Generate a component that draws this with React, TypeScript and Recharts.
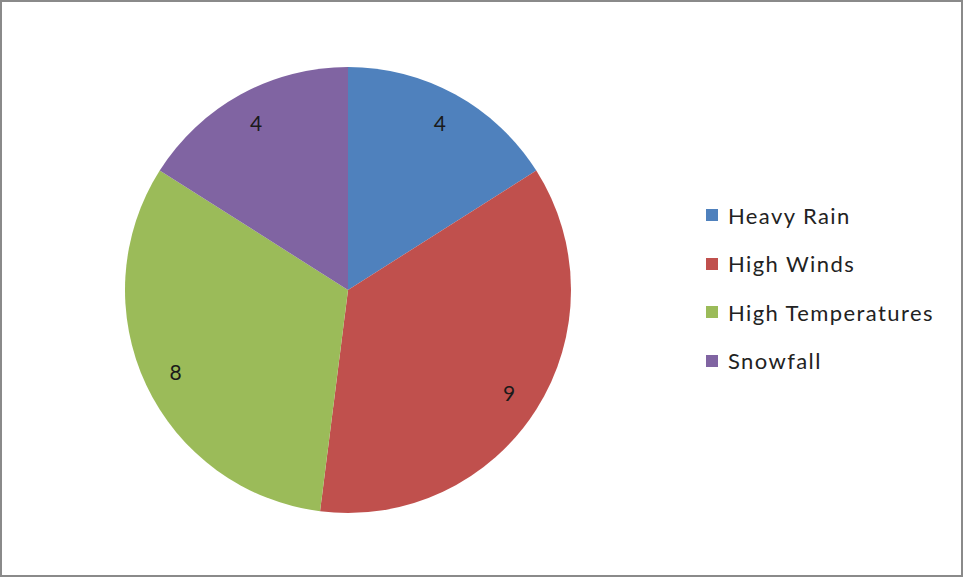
import React from 'react';
import { PieChart, Pie, Cell, Legend } from 'recharts';

const categories = ['Heavy Rain', 'High Winds', 'High Temperatures', 'Snowfall'];
const counts = [4, 9, 8, 4];
const colors = ['#4F81BD', '#C0504D', '#9BBB59', '#8064A2'];

const data = categories.map((name, i) => ({ name, value: counts[i] }));

const RADIAN = Math.PI / 180;
const FONT = 'Lato, "Open Sans", sans-serif';

const renderLabel = (props: any) => {
    const { cx, cy, midAngle, outerRadius, value } = props;
    const r = outerRadius * 0.855;
    const x = cx + r * Math.cos(-midAngle * RADIAN);
    const y = cy + r * Math.sin(-midAngle * RADIAN);
    return (
        <text x={x} y={y} fill="#1a1a1a" fontSize={21} fontFamily={FONT} textAnchor="middle" dominantBaseline="central">
            {value}
        </text>
    );
};

const renderLegend = () => (
    <div style={{ fontFamily: FONT, fontSize: 22, letterSpacing: 1.4, color: '#222' }}>
        {categories.map((name, i) => (
            <div key={name} style={{ display: 'flex', alignItems: 'center', height: 48.5 }}>
                <span style={{ width: 12, height: 12, background: colors[i], marginRight: 10, display: 'inline-block' }} />
                <span>{name}</span>
            </div>
        ))}
    </div>
);

export default function App() {
    return (
        <div style={{ position: 'absolute', left: 0, top: 0, width: 963, height: 577, boxSizing: 'border-box', border: '2px solid #8a8a8a', background: '#fff' }}>
            <PieChart width={959} height={573} style={{ position: 'absolute', left: 0, top: 0 }}>
                <Pie
                    data={data}
                    dataKey="value"
                    nameKey="name"
                    cx={341}
                    cy={283}
                    outerRadius={223}
                    startAngle={90}
                    endAngle={-270}
                    stroke="none"
                    label={renderLabel}
                    labelLine={false}
                    isAnimationActive={false}
                >
                    {data.map((entry, index) => (
                        <Cell key={`cell-${index}`} fill={colors[index]} />
                    ))}
                </Pie>
                <Legend
                    content={renderLegend}
                    layout="vertical"
                    wrapperStyle={{ position: 'absolute', left: 704, top: 189, width: 250 }}
                />
            </PieChart>
        </div>
    );
}
